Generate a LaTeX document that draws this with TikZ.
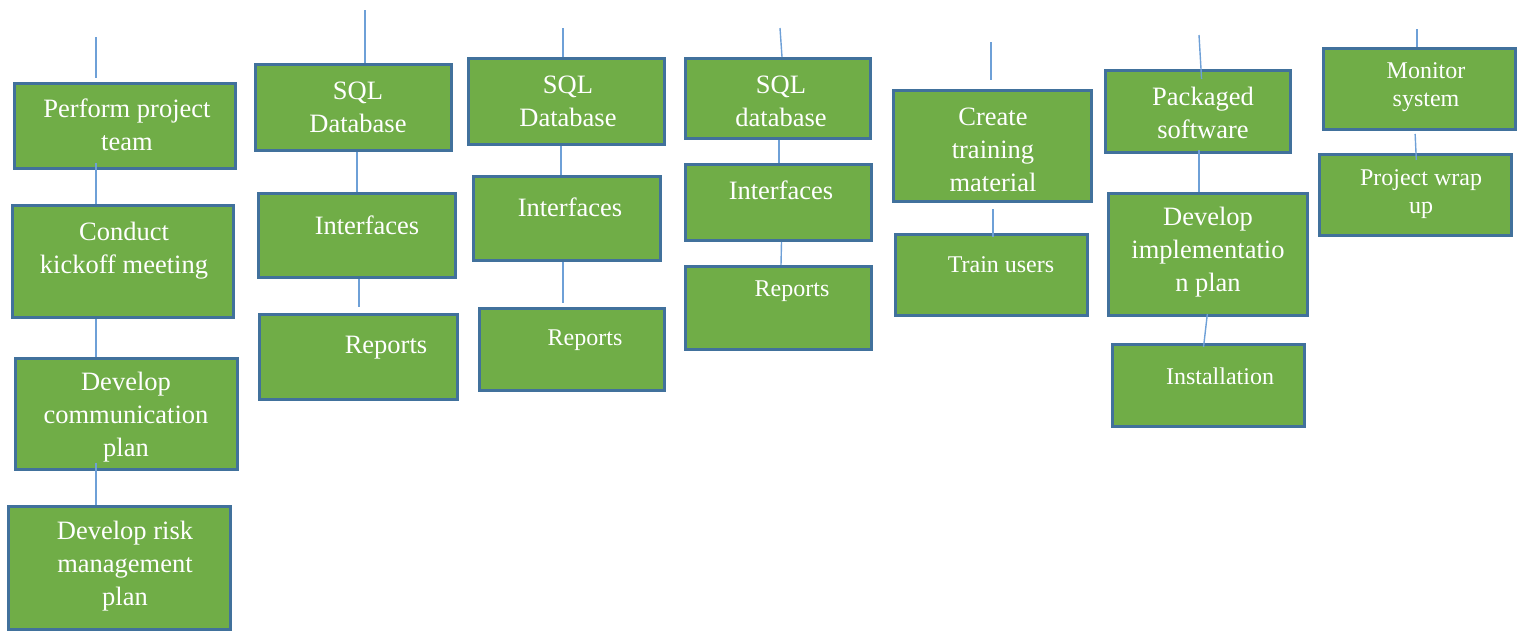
\documentclass[tikz,border=0pt]{standalone}
\usepackage{fontspec}
\setmainfont{Liberation Serif}
\definecolor{boxgreen}{RGB}{112,173,71}
\definecolor{boxblue}{RGB}{65,113,156}
\definecolor{linkblue}{RGB}{110,160,215}

\begin{document}
\begin{tikzpicture}[x=1pt,y=-1pt,
  box/.style={draw=boxblue,fill=boxgreen,line width=3pt,inner sep=0pt,rectangle},
  link/.style={draw=linkblue,line width=1.4pt},
  txt/.style={text=white,align=center,inner sep=0pt,font=\fontsize{26.5}{33}\selectfont},
  smalltxt/.style={txt,font=\fontsize{24}{28.5}\selectfont}]
\useasboundingbox (0,0) rectangle (1527,632);

% Column 1: project start
\node[box,minimum width=221,minimum height=85] (perform) at (125,126) {};
\node[box,minimum width=221,minimum height=112] (kickoff) at (123,261.5) {};
\node[box,minimum width=222,minimum height=111] (commplan) at (126.5,414) {};
\node[box,minimum width=222,minimum height=123] (riskplan) at (119.5,568) {};
\coordinate (top1) at (96,37);
\draw[link,shorten >=4] (top1) -- (perform.north -| top1);
\draw[link,shorten <=-7] (perform.south -| top1) -- (kickoff.north -| top1);
\draw[link] (kickoff.south -| top1) -- (commplan.north -| top1);
\draw[link,shorten <=-8] (commplan.south -| top1) -- (riskplan.north -| top1);
\node[txt] (perform-t) at (127,125) {Perform project\\team};
\node[txt] (kickoff-t) at (124,251) {Conduct\\kickoff meeting};
\node[txt] (commplan-t) at (126,417) {Develop\\communication\\plan};
\node[txt] (riskplan-t) at (125,566) {Develop risk\\management\\plan};

% Column 2: first SQL database
\node[box,minimum width=196,minimum height=86] (sqla) at (353.5,107.5) {};
\node[box,minimum width=197,minimum height=84] (intfa) at (357,235.5) {};
\node[box,minimum width=198,minimum height=85] (repa) at (358.5,357) {};
\coordinate (top2) at (365,10);
\draw[link] (top2) -- (sqla.north -| top2);
\draw[link] ([xshift=3.5]sqla.south) -- ([xshift=0]intfa.north);
\draw[link,shorten >=6] ([xshift=2]intfa.south) -- ([xshift=0.5]repa.north);
\node[txt] (sqla-t) at (358,107) {SQL\\Database};
\node[txt] (intfa-t) at (367,225) {Interfaces};
\node[txt] (repa-t) at (386,348) {Reports};

% Column 3: second SQL database
\node[box,minimum width=196,minimum height=86] (sqlb) at (566.5,101.5) {};
\node[box,minimum width=187,minimum height=84] (intfb) at (567,218.5) {};
\node[box,minimum width=185,minimum height=82] (repb) at (572,349.5) {};
\coordinate (top3) at (563,28);
\draw[link] (top3) -- (sqlb.north -| top3);
\draw[link] ([xshift=-5.5]sqlb.south) -- ([xshift=-6]intfb.north);
\draw[link,shorten >=4] ([xshift=-4]intfb.south) -- ([xshift=-9]repb.north);
\node[txt] (sqlb-t) at (568,101) {SQL\\Database};
\node[txt] (intfb-t) at (570,207) {Interfaces};
\node[smalltxt] (repb-t) at (585,340) {Reports};

% Column 4: third SQL database
\node[box,minimum width=185,minimum height=80] (sqlc) at (778,98.5) {};
\node[box,minimum width=186,minimum height=76] (intfc) at (778.5,202.5) {};
\node[box,minimum width=186,minimum height=83] (repc) at (778.5,308) {};
\coordinate (top4) at (780,28);
\draw[link] (top4) -- ([xshift=4]sqlc.north);
\draw[link] ([xshift=1]sqlc.south) -- ([xshift=0.5]intfc.north);
\draw[link] ([xshift=3]intfc.south) -- ([xshift=2.5]repc.north);
\node[txt] (sqlc-t) at (781,101) {SQL\\database};
\node[txt] (intfc-t) at (781,190) {Interfaces};
\node[smalltxt] (repc-t) at (792,291) {Reports};

% Column 5: training
\node[box,minimum width=198,minimum height=111] (material) at (992.5,146) {};
\node[box,minimum width=192,minimum height=81] (trainusers) at (991.5,275) {};
\coordinate (top5) at (991,42);
\draw[link,shorten >=9] (top5) -- (material.north -| top5);
\draw[link,shorten <=6,shorten >=-4] ([xshift=0.5]material.south) -- ([xshift=1.5]trainusers.north);
\node[txt] (material-t) at (993,150) {Create\\training\\material};
\node[smalltxt] (trainusers-t) at (1001,265) {Train users};

% Column 6: packaged software
\node[box,minimum width=185,minimum height=82] (packaged) at (1198,111.5) {};
\node[box,minimum width=199,minimum height=122] (implplan) at (1208,254.5) {};
\node[box,minimum width=192,minimum height=82] (install) at (1208.5,385.5) {};
\coordinate (top6) at (1199,35);
\draw[link,shorten >=-10] (top6) -- ([xshift=3]packaged.north);
\draw[link,shorten <=-4] ([xshift=1]packaged.south) -- ([xshift=-9]implplan.north);
\draw[link,shorten <=-3,shorten >=-4] ([xshift=-1]implplan.south) -- ([xshift=-4.5]install.north);
\node[txt] (packaged-t) at (1203,113) {Packaged\\software};
\node[txt] (implplan-t) at (1208,252) {Develop\\implementatio\\n plan};
\node[smalltxt] (install-t) at (1220,376) {Installation};

% Column 7: wrap up
\node[box,minimum width=192,minimum height=81] (monitor) at (1419.5,89) {};
\node[box,minimum width=192,minimum height=81] (wrapup) at (1415.5,195) {};
\coordinate (top7) at (1417,29);
\draw[link] (top7) -- (monitor.north -| top7);
\draw[link,shorten <=3,shorten >=-7] ([xshift=-4.5]monitor.south) -- ([xshift=0.5]wrapup.north);
\node[smalltxt] (monitor-t) at (1426,87) {Monitor\\system};
\node[smalltxt] (wrapup-t) at (1421,194) {Project wrap\\up};
\end{tikzpicture}
\end{document}
